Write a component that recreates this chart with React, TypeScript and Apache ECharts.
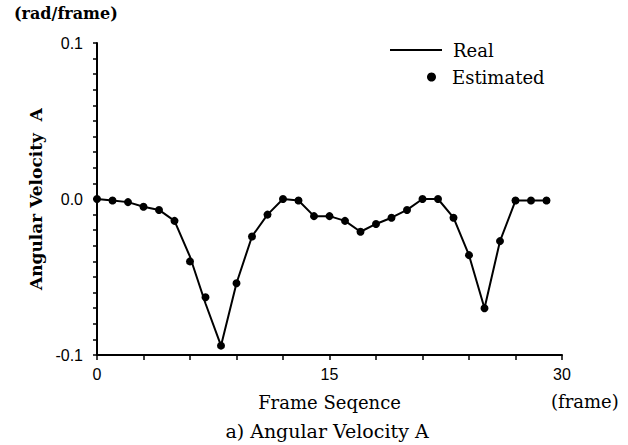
import React, { useEffect, useRef } from "react";
import * as echarts from "echarts";

const frames = [0, 1, 2, 3, 4, 5, 6, 7, 8, 9, 10, 11, 12, 13, 14, 15, 16, 17, 18, 19, 20, 21, 22, 23, 24, 25, 26, 27, 28, 29];
const realValues = [0, -0.001, -0.002, -0.005, -0.007, -0.014, -0.037, -0.067, -0.094, -0.054, -0.024, -0.010, 0, -0.001, -0.011, -0.011, -0.014, -0.021, -0.016, -0.012, -0.007, 0, 0, -0.012, -0.036, -0.070, -0.027, -0.001, -0.001, -0.001];
const estimatedValues = [0, -0.001, -0.002, -0.005, -0.007, -0.014, -0.040, -0.063, -0.094, -0.054, -0.024, -0.010, 0, -0.001, -0.011, -0.011, -0.014, -0.021, -0.016, -0.012, -0.007, 0, 0, -0.012, -0.036, -0.070, -0.027, -0.001, -0.001, -0.001];
const xLabels = [0, 15, 30];

const SERIF = "DejaVu Serif";
const SANS = "Liberation Sans";

export default function App() {
  const ref = useRef<HTMLDivElement>(null);
  useEffect(() => {
    if (!ref.current) return;
    const chart = echarts.init(ref.current, undefined, { renderer: "svg" });
    const realData = frames.map((f, i) => [f, realValues[i]]);
    const estData = frames.map((f, i) => [f, estimatedValues[i]]);
    chart.setOption({
      animation: false,
      backgroundColor: "#ffffff",
      title: {
        text: "a) Angular Velocity A",
        left: 327,
        textAlign: "center",
        top: 421,
        padding: 0,
        textStyle: { fontFamily: SERIF, fontSize: 19, fontWeight: "normal", color: "#000" },
      },
      legend: [
        {
          data: ["Real"],
          left: 390,
          top: 41,
          padding: 0,
          icon: "rect",
          itemWidth: 52,
          itemHeight: 2,
          itemStyle: { color: "#000" },
          textStyle: { fontFamily: SERIF, fontSize: 18, color: "#000", padding: [0, 0, 0, 6] },
          selectedMode: false,
        },
        {
          data: ["Estimated"],
          left: 427,
          top: 68,
          padding: 0,
          icon: "circle",
          itemWidth: 9,
          itemHeight: 9,
          itemStyle: { color: "#000", opacity: 1 },
          textStyle: { fontFamily: SERIF, fontSize: 18, color: "#000", padding: [0, 0, 0, 11] },
          selectedMode: false,
        },
      ],
      grid: { left: 97, right: 66, top: 43, bottom: 90, containLabel: false },
      xAxis: {
        type: "value",
        min: 0,
        max: 30,
        interval: 3,
        name: "Frame Seqence",
        nameLocation: "middle",
        nameGap: 38,
        nameTextStyle: { fontFamily: SERIF, fontSize: 18, color: "#000" },
        axisLine: { show: true, onZero: false, lineStyle: { color: "#000", width: 2 } },
        axisTick: { show: true, inside: false, length: 5, lineStyle: { color: "#000", width: 1.5 } },
        axisLabel: {
          fontFamily: SANS,
          fontSize: 16,
          color: "#000",
          margin: 11,
          formatter: (v: number) => (xLabels.some((l) => Math.abs(l - v) < 1e-9) ? String(v) : ""),
        },
        splitLine: { show: false },
      },
      yAxis: {
        type: "value",
        position: "left",
        min: -0.1,
        max: 0.1,
        interval: 0.01,
        name: "Angular Velocity  A",
        nameLocation: "middle",
        nameRotate: 90,
        nameGap: 52,
        nameTextStyle: { fontFamily: SERIF, fontSize: 17, color: "#000", fontWeight: "bold" },
        axisLine: { show: true, onZero: false, lineStyle: { color: "#000", width: 2 } },
        axisTick: { show: true, inside: false, length: 4, lineStyle: { color: "#000", width: 1.5 } },
        axisLabel: {
          show: true,
          fontFamily: SANS,
          fontSize: 16,
          color: "#000",
          margin: 14,
          formatter: (v: number) => {
            const r = Math.round(v * 100) / 100;
            if (Math.abs(r) < 1e-9) return "0.0";
            if (Math.abs(Math.abs(r) - 0.1) < 1e-9) return r.toFixed(1);
            return "";
          },
        },
        splitLine: { show: false },
      },
      graphic: [
        {
          type: "text",
          left: 14,
          top: 5,
          style: { text: "(rad/frame)", fontFamily: SERIF, fontSize: 16, fontWeight: "bold", fill: "#000" },
        },
        {
          type: "text",
          left: 551,
          top: 392,
          style: { text: "(frame)", fontFamily: SERIF, fontSize: 18, fill: "#000" },
        },
      ],
      series: [
        {
          name: "Real",
          type: "line",
          data: realData,
          showSymbol: false,
          symbol: "none",
          lineStyle: { color: "#000", width: 2 },
          itemStyle: { color: "#000" },
          z: 2,
        },
        {
          name: "Estimated",
          type: "scatter",
          data: estData,
          symbol: "circle",
          symbolSize: 8,
          itemStyle: { color: "#000", opacity: 1 },
          z: 3,
        },
      ],
    });
    return () => chart.dispose();
  }, []);
  return (
    <div
      ref={ref}
      style={{ position: "fixed", left: 0, top: 0, width: 628, height: 445, background: "#fff" }}
    />
  );
}
